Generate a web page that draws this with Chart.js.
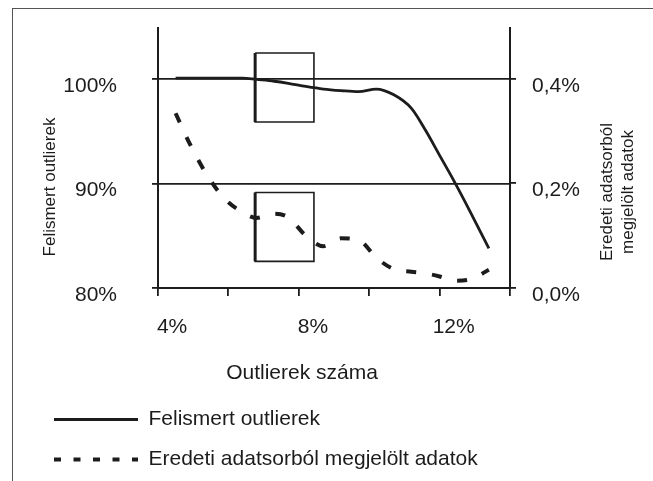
<!DOCTYPE html>
<html>
<head>
<meta charset="utf-8">
<script src="https://cdn.jsdelivr.net/npm/chart.js@4.4.1/dist/chart.umd.min.js"></script>
<style>
  html, body { margin: 0; padding: 0; background: #fff; }
  #wrap { position: relative; width: 653px; height: 481px; overflow: hidden; }
  #frame { position: absolute; left: 12px; top: 8px; width: 700px; height: 600px;
           border-left: 1px solid #555; border-top: 1px solid #555; }
  #chart { position: absolute; left: 0; top: 0; }
</style>
</head>
<body>
<div id="wrap">
  <div id="frame"></div>
  <canvas id="chart" width="653" height="481"></canvas>
</div>
<script>
// data
const xValues = [4.1, 4.5, 5.0, 5.5, 6.0, 6.4, 6.9, 7.3, 7.8, 8.3, 8.8, 9.3, 9.8, 10.3, 10.8, 11.2, 11.6, 12.0, 12.5, 13.0];
const recognized = [100.1, 100.1, 100.1, 100.1, 100.1, 99.97, 99.8, 99.6, 99.3, 99.05, 98.9, 98.8, 99.05, 98.5, 97.2, 95.1, 92.7, 90.3, 87.1, 83.8];
const marked = [0.334, 0.276, 0.215, 0.170, 0.145, 0.134, 0.142, 0.135, 0.100, 0.080, 0.095, 0.092, 0.058, 0.036, 0.031, 0.028, 0.022, 0.014, 0.017, 0.035];

// the two framed areas (x range, y range on left axis)
const boxX = [6.36, 8.03];
const topBoxY = [102.5, 95.9];
const bottomBoxY = [89.15, 82.55];

// ticks and labels
const xTickMarks = [3.6, 5.6, 7.6, 9.6, 11.6, 13.6];
const xLabelValues = [4, 8, 12];
const leftTicks = [80, 90, 100];
const rightTicks = [0, 0.2, 0.4];

const seriesNames = ["Felismert outlierek", "Eredeti adatsorból megjelölt adatok"];
const xTitle = "Outlierek száma";
const leftTitle = "Felismert outlierek";
const rightTitle = ["Eredeti adatsorból", "megjelölt adatok"];

const ink = "#1c1c1c";
const fontFamily = "'Liberation Sans', Arial, Helvetica, sans-serif";

function boxPath(ys) {
  return [
    { x: boxX[0], y: ys[0] }, { x: boxX[1], y: ys[0] },
    { x: boxX[1], y: ys[1] }, { x: boxX[0], y: ys[1] }, { x: boxX[0], y: ys[0] }
  ];
}
function boxEdge(ys) {
  return [{ x: boxX[0], y: ys[0] }, { x: boxX[0], y: ys[1] }];
}
function frameSet(data, width) {
  return { data, xAxisID: "x", yAxisID: "y", borderColor: ink, borderWidth: width,
           pointRadius: 0, tension: 0, fill: false };
}

// axis captions: left one, right one (two lines, read bottom to top) and the x one
const captions = {
  id: "captions",
  afterDraw(chart) {
    const { ctx, chartArea } = chart;
    ctx.save();
    ctx.fillStyle = ink;
    ctx.textAlign = "center";
    ctx.textBaseline = "middle";
    ctx.font = "21px " + fontFamily;
    ctx.fillText(xTitle, chartArea.left + 144, chartArea.bottom + 85);

    ctx.font = "17px " + fontFamily;
    ctx.save();
    ctx.translate(chartArea.left - 108, chartArea.bottom - 101);
    ctx.rotate(-Math.PI / 2);
    ctx.fillText(leftTitle, 0, 0);
    ctx.restore();

    ctx.save();
    ctx.translate(chartArea.right + 97, chartArea.bottom - 96);
    ctx.rotate(-Math.PI / 2);
    rightTitle.forEach((line, i) => ctx.fillText(line, 0, i * 21));
    ctx.restore();
    ctx.restore();
  }
};

// fixed axis sizes, and no extra padding asked by the tick labels
function noPadding(scale) {
  scale.paddingTop = 0;
  scale.paddingBottom = 0;
  scale.paddingLeft = 0;
  scale.paddingRight = 0;
}
function fixedWidth(w) {
  return (scale) => { scale.width = w; noPadding(scale); };
}
function fixedHeight(h) {
  return (scale) => { scale.height = h; noPadding(scale); };
}
function setTicks(values) {
  return (scale) => { scale.ticks = values.map((v) => ({ value: v })); };
}

new Chart(document.getElementById("chart"), {
  type: "line",
  data: {
    datasets: [
      {
        label: seriesNames[0],
        data: xValues.map((x, i) => ({ x, y: recognized[i] })),
        xAxisID: "x", yAxisID: "y",
        borderColor: ink, backgroundColor: ink, borderWidth: 2.8,
        pointRadius: 0, cubicInterpolationMode: "monotone", fill: false
      },
      {
        label: seriesNames[1],
        data: xValues.map((x, i) => ({ x, y: marked[i] })),
        xAxisID: "x", yAxisID: "y2",
        borderColor: ink, backgroundColor: ink, borderWidth: 4, borderDash: [10, 16],
        pointRadius: 0, cubicInterpolationMode: "monotone", fill: false
      },
      frameSet(boxPath(topBoxY), 1.6),
      frameSet(boxEdge(topBoxY), 3),
      frameSet(boxPath(bottomBoxY), 1.6),
      frameSet(boxEdge(bottomBoxY), 3)
    ]
  },
  options: {
    responsive: false,
    animation: false,
    events: [],
    layout: { autoPadding: false, padding: { left: 35, top: 28, right: 0, bottom: 1 } },
    scales: {
      x: {
        type: "linear", position: "bottom", weight: 0,
        min: 3.6, max: 13.6,
        afterBuildTicks: setTicks(xTickMarks),
        afterFit: fixedHeight(8),
        ticks: { display: false },
        grid: { drawOnChartArea: false, drawTicks: true, tickLength: 8, color: ink, lineWidth: 1.8 },
        border: { display: true, color: ink, width: 2 }
      },
      x2: {
        type: "linear", position: "bottom", weight: 1,
        min: 3.6, max: 13.6,
        afterBuildTicks: setTicks(xLabelValues),
        afterFit: fixedHeight(94),
        ticks: { padding: 11, color: ink, font: { family: fontFamily, size: 21 }, maxRotation: 0,
                 callback: (v) => v + "%" },
        grid: { display: false },
        border: { display: false }
      },
      y: {
        type: "linear", position: "left",
        min: 80, max: 104.9,
        afterBuildTicks: setTicks(leftTicks),
        afterFit: fixedWidth(123),
        ticks: { padding: 35, labelOffset: 7, color: ink, font: { family: fontFamily, size: 21 },
                 callback: (v) => v + "%" },
        grid: { drawOnChartArea: true, drawTicks: true, tickLength: 6, color: ink, lineWidth: 1.8 },
        border: { display: true, color: ink, width: 2 }
      },
      y2: {
        type: "linear", position: "right",
        min: 0, max: 0.497,
        afterBuildTicks: setTicks(rightTicks),
        afterFit: fixedWidth(143),
        ticks: { padding: 16, labelOffset: 7, color: ink, font: { family: fontFamily, size: 21 },
                 callback: (v) => v.toFixed(1).replace(".", ",") + "%" },
        grid: { drawOnChartArea: false, drawTicks: true, tickLength: 6, color: ink, lineWidth: 1.8 },
        border: { display: true, color: ink, width: 2 }
      }
    },
    plugins: {
      tooltip: { enabled: false },
      legend: {
        position: "bottom",
        align: "start",
        labels: {
          usePointStyle: true,
          pointStyle: "line",
          pointStyleWidth: 84,
          padding: 19,
          color: ink,
          font: { family: fontFamily, size: 21 },
          filter: (item) => item.datasetIndex < 2,
          generateLabels: (chart) =>
            Chart.defaults.plugins.legend.labels.generateLabels(chart).map((item) => {
              if (item.datasetIndex === 0) {
                item.lineWidth = 3;
                item.lineDash = [];
              } else if (item.datasetIndex === 1) {
                item.lineWidth = 4;
                item.lineDash = [7, 12.5];
              }
              return item;
            })
        }
      }
    }
  },
  plugins: [captions]
});
</script>
</body>
</html>
